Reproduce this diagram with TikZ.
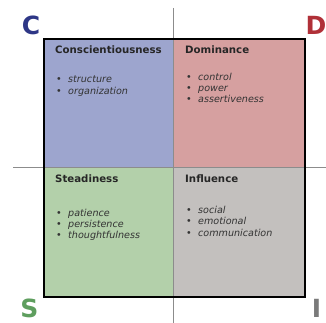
\documentclass[tikz,border=0pt]{standalone}
\usepackage{fontspec}
\setmainfont{DejaVu Sans}
\begin{document}
\begin{tikzpicture}[x=1pt,y=-1pt,
  title/.style={anchor=base west,inner sep=0pt,font=\bfseries\fontsize{10.2}{12}\selectfont,text=black!85},
  item/.style={anchor=base west,inner sep=0pt,font=\itshape\fontsize{9.6}{11}\selectfont,text=black!80},
  corner/.style={anchor=base,inner sep=0pt,font=\bfseries\fontsize{25}{25}\selectfont},
  axis/.style={draw=black!45,line width=0.8pt}]
\definecolor{cblue}{HTML}{9DA5CE}
\definecolor{dred}{HTML}{D6A0A0}
\definecolor{sgreen}{HTML}{B3D0AA}
\definecolor{igray}{HTML}{C3C0BE}
\definecolor{cletter}{HTML}{2E3786}
\definecolor{dletter}{HTML}{B03038}
\definecolor{sletter}{HTML}{5E9E5E}
\definecolor{iletter}{HTML}{7A7A7A}
\newcommand{\bulletitem}[1]{\makebox[12pt][l]{\textbullet}#1}
\useasboundingbox (0,0) rectangle (326,323);
% quadrant fills
\fill[cblue]  (44,39) rectangle (173,167);
\fill[dred]   (173,39) rectangle (305,167);
\fill[sgreen] (44,167) rectangle (173,297);
\fill[igray]  (173,167) rectangle (305,297);
% axes
\coordinate (top) at (173,8);
\coordinate (bottom) at (173,323);
\coordinate (left) at (13,167);
\coordinate (right) at (326,167);
\draw[axis] (top) -- (bottom);
\draw[axis] (left) -- (right);
% frame
\draw[line width=1.6pt] (44,39) rectangle (305,297);
% corner letters
\node[corner,text=cletter] (cC) at (31,35) {C};
\node[corner,text=dletter] (cD) at (316,35) {D};
\node[corner,text=sletter] (cS) at (29.5,317) {S};
\node[corner,text=iletter] (cI) at (316.5,317) {I};
% Conscientiousness
\node[title] (tC) at (55,54) {Conscientiousness};
\node[item] (c1) at (56,83) {\bulletitem{structure}};
\node[item] (c2) at (56,94.5) {\bulletitem{organization}};
% Dominance
\node[title] (tD) at (185,54) {Dominance};
\node[item] (d1) at (186,81) {\bulletitem{control}};
\node[item] (d2) at (186,92) {\bulletitem{power}};
\node[item] (d3) at (186,103) {\bulletitem{assertiveness}};
% Steadiness
\node[title] (tS) at (55,182) {Steadiness};
\node[item] (s1) at (56,216) {\bulletitem{patience}};
\node[item] (s2) at (56,227) {\bulletitem{persistence}};
\node[item] (s3) at (56,238) {\bulletitem{thoughtfulness}};
% Influence
\node[title] (tI) at (185,182) {Influence};
\node[item] (i1) at (186,213) {\bulletitem{social}};
\node[item] (i2) at (186,224.5) {\bulletitem{emotional}};
\node[item] (i3) at (186,236) {\bulletitem{communication}};
\end{tikzpicture}
\end{document}
